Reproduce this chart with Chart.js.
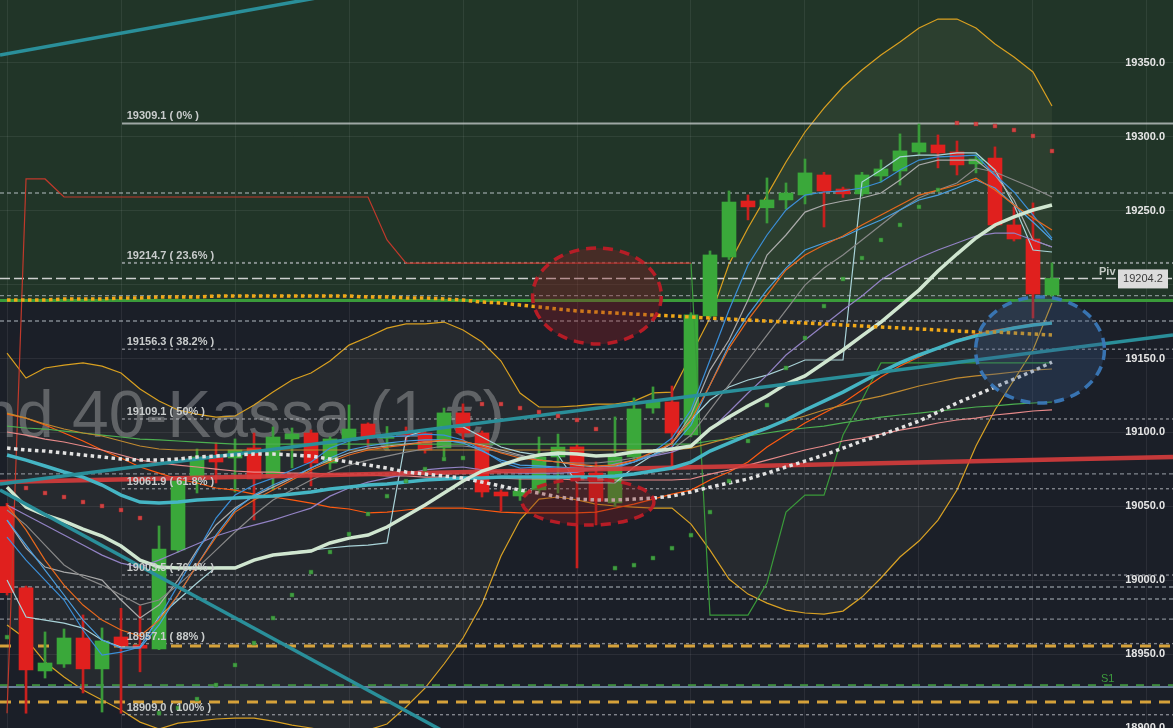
<!DOCTYPE html>
<html>
<head>
<meta charset="utf-8">
<script src="https://cdn.jsdelivr.net/npm/chart.js@4.4.1/dist/chart.umd.min.js"></script>
<style>
  html, body { margin: 0; padding: 0; background: #1b1f28; overflow: hidden; }
  #chart { display: block; }
</style>
</head>
<body>
<canvas id="chart" width="1173" height="728"></canvas>
<script>
// candles (index 0..55)
const opens = [19049.8,18994.8,18938.6,18943.3,18960.9,18940,18961.6,18956,18953.5,19020.5,19069.9,19083.4,19082.7,19089.5,19069.9,19095.6,19099.6,19079.3,19094.9,19105.7,19096,19100.3,19099.6,19089.5,19113.2,19099.6,19059.7,19057,19061.1,19083.4,19090.2,19072.6,19052.3,19083.4,19116.5,19120.6,19098.3,19178.8,19218.7,19256.6,19252,19257.3,19260.7,19274.2,19264.7,19261.4,19273.5,19276.9,19289.8,19294.5,19289.8,19281.7,19285.7,19240.4,19230.9,19193];
const highs = [19052,18996,18965,18967,18976.5,18967.7,18981,18982.6,19036.7,19068,19088.8,19092.9,19095.6,19099.6,19103.7,19103,19101.7,19097,19118.6,19106.5,19104,19103.7,19102,19116.5,19119.3,19101,19061,19069,19096.9,19098.9,19092,19080,19110.5,19123.3,19130.8,19131.4,19181,19222.8,19263.4,19260.7,19272.2,19268.8,19285,19276,19266,19276,19284.4,19302,19308.7,19301.3,19297.2,19288,19293.2,19252.6,19255.3,19214.7];
const lows = [18990,18910,18933.8,18941,18923.7,18910.8,18910,18938,18953,19019,19059,19065.8,19059.7,19040.8,19061,19076,19063.8,19075,19088.1,19090,19089,19094,19086,19083.4,19094.9,19056.3,19046.8,19054,19059,19059,19008.3,19037.4,19050,19082,19113,19074.6,19097,19178,19217,19243.8,19241.7,19251.2,19254.6,19239,19259,19260,19269.5,19267.4,19288,19279,19274.2,19275.6,19239,19229.5,19177.4,19192];
const closes = [18991.6,18939.3,18944,18960.9,18940,18958.9,18955.5,18954,19021.1,19067.2,19083.4,19080,19088.1,19068.5,19096.9,19099,19079.3,19095.6,19102.3,19096.2,19097,19098.3,19088.1,19113.2,19099.6,19059.7,19057,19060.4,19083.4,19090.1,19067.8,19053.5,19083.4,19115.9,19120.6,19099.6,19179.5,19220.1,19255.9,19252.6,19257.3,19262,19275.6,19263.4,19261.4,19274.2,19278.3,19290.5,19295.9,19289.1,19281,19285,19240.4,19230.9,19193.7,19204.2];

// parabolic sar
const sarBelow = [18961.5,null,null,null,null,null,null,null,18910.1,18913.5,18919.6,18929.1,18942.6,18957.5,18974.4,18990,19005.5,19019.1,19031.2,19044.8,19056.9,19067.1,19075.2,19082.0,19082.7,null,null,null,null,null,null,null,19008.2,19010.2,19015,19021.7,19030.5,19046.1,19067.1,19094.2,19118.5,19143.6,19163.9,19185.5,19203.8,19218,19230.2,19240.4,19252.6,19264.1,null,null,null,null,null,null];
const sarAbove = [null,19062.4,19059,19056.3,19052.9,19050.2,19047.5,19042.1,null,null,null,null,null,null,null,null,null,null,null,null,null,null,null,null,null,19119.2,19119.2,19116.5,19113.8,19111.1,19108.4,19102.3,null,null,null,null,null,null,null,null,null,null,null,null,null,null,null,null,null,null,19309.4,19308.7,19307.3,19304.6,19300.6,19290.4];

// bollinger bands
const bbUpper = [19153.7,19136.8,19143.6,19145.6,19147.0,19144.9,19140.2,19129.4,19121.2,19115.2,19112.4,19110.4,19111.1,19118.5,19127.3,19135.5,19140.2,19148.3,19159.1,19164.6,19170.6,19173.4,19173.4,19174.7,19169.3,19161.2,19148.3,19126.7,19117.2,19117.2,19117.9,19119.2,19119.2,19121.2,19126.7,19127.3,19152.4,19177.4,19213.9,19238.3,19260.6,19283.0,19303.3,19319.5,19333.7,19345.2,19355.4,19364.2,19373.7,19379.7,19379.7,19373.7,19362.8,19354.0,19343.9,19320.9];
const bbLower = [18969.7,18960.2,18944.6,18934.5,18925.7,18918.9,18912.2,18904.0,18899.3,18903.3,18904.7,18906.1,18906.7,18906.7,18904.7,18902.0,18900.0,18897.3,18896.6,18898.6,18902.7,18914.2,18927.0,18943.3,18960.9,18983.9,19016.4,19040.7,19054.9,19056.3,19054.3,19051.5,19050.2,19049.5,19048.8,19048.8,19038.0,19020.4,19000.8,18990.6,18984.5,18979.8,18977.8,18977.1,18979.1,18988.6,19001.5,19015.7,19026.5,19040.7,19061.0,19090.8,19115.2,19135.5,19155.8,19187.6];

// moving averages
const maWhite = [19063.0,19049.5,19044.1,19040.0,19034.6,19029.9,19023.1,19013.6,19008.9,19008.2,19008.2,19008.2,19008.2,19013.6,19017.0,19018.4,19019.7,19025.2,19028.5,19030.6,19036.0,19043.4,19050.9,19059.0,19067.1,19073.9,19077.9,19082.0,19084.7,19086.1,19085.4,19084.0,19084.7,19086.7,19087.4,19088.8,19090.8,19102.3,19110.4,19117.9,19124.6,19132.8,19138.2,19147.0,19155.8,19165.3,19174.7,19185.5,19196.3,19209.2,19220.7,19231.6,19240.4,19245.8,19250.5,19253.9];
const maTeal = [19084.7,19081.3,19077.3,19073.2,19069.8,19064.4,19057.6,19052.9,19052.2,19052.9,19054.3,19054.9,19055.6,19056.3,19057.0,19058.3,19059.7,19061.7,19063.0,19064.4,19065.1,19066.4,19067.8,19068.5,19069.1,19069.1,19069.8,19069.8,19069.8,19069.8,19069.8,19069.8,19070.5,19071.8,19073.9,19075.9,19079.9,19087.4,19092.8,19098.2,19102.9,19108.4,19115.2,19121.2,19127.3,19134.1,19140.9,19147.0,19152.4,19157.1,19161.9,19165.3,19168.0,19170.6,19172.7,19174.0];
const dotWhite = [19089.4,19088.1,19087.4,19086.1,19084.7,19083.4,19082.0,19081.3,19081.3,19082.0,19083.4,19084.0,19084.7,19085.4,19085.4,19084.7,19084.0,19082.0,19080.0,19077.9,19075.9,19073.2,19071.8,19070.5,19069.1,19066.4,19063.7,19061.0,19059.0,19056.3,19054.9,19054.3,19054.3,19054.9,19055.6,19056.9,19059.7,19063.0,19065.8,19068.5,19072.5,19076.6,19080.6,19084.7,19089.4,19094.2,19098.2,19102.9,19107.7,19113.8,19119.9,19125.3,19130.7,19136.1,19141.5,19147.6];
const dotYellow = [19189.6,19189.6,19189.6,19190.3,19190.3,19190.3,19191.0,19191.0,19191.6,19191.6,19191.6,19192.3,19192.3,19192.3,19192.3,19192.3,19192.3,19192.3,19192.3,19191.6,19191.6,19191.0,19191.0,19190.3,19189.6,19188.2,19187.6,19186.2,19184.9,19183.5,19182.2,19181.5,19180.8,19180.1,19179.4,19178.8,19178.1,19177.4,19176.7,19176.1,19175.4,19174.7,19174.0,19173.4,19172.7,19172.0,19171.3,19170.7,19170.0,19169.3,19168.6,19168.0,19168.0,19167.3,19166.6,19165.9];
const maBlue1 = [19029.2,19013.6,19000.1,18986.6,18966.3,18949.4,18951.4,18954.8,18974.4,18996.7,19019.1,19042.1,19057.6,19064.4,19069.1,19074.6,19080.0,19089.4,19094.2,19096.2,19096.9,19097.6,19098.9,19098.2,19094.9,19088.1,19080.0,19075.9,19076.6,19075.9,19075.2,19074.6,19075.9,19080.0,19086.7,19096.2,19115.2,19149.0,19182.8,19213.3,19233.6,19250.5,19260.6,19262.7,19263.4,19265.4,19269.4,19277.6,19284.3,19286.4,19287.0,19287.7,19274.2,19262.7,19247.0,19231.5];
const maBlue2 = [19040.7,19023.8,19006.9,18990.0,18973.0,18959.5,18954.1,18954.1,18969.7,18990.0,19010.3,19030.6,19047.5,19057.6,19064.4,19069.8,19075.9,19082.7,19088.1,19090.8,19092.8,19094.2,19094.9,19094.9,19092.8,19087.4,19081.3,19077.9,19077.3,19076.6,19075.9,19075.2,19076.6,19080.0,19084.7,19090.1,19105.0,19132.1,19159.1,19179.4,19196.4,19211.2,19223.4,19228.2,19232.2,19238.3,19243.7,19250.5,19257.3,19260.6,19265.4,19270.8,19265.4,19253.9,19242.4,19230.2];
const maOrange = [19050.9,19034.0,19013.6,18996.7,18983.2,18973.0,18966.3,18962.2,18973.0,18990.0,19010.3,19029.2,19046.1,19054.3,19061.0,19067.8,19074.6,19080.0,19084.7,19088.1,19090.1,19091.5,19093.5,19094.9,19094.2,19090.8,19086.1,19082.7,19081.3,19080.0,19078.6,19077.3,19077.9,19081.3,19086.7,19092.8,19108.4,19132.1,19157.1,19176.1,19193.0,19209.9,19220.0,19226.8,19232.9,19240.4,19247.1,19253.9,19260.6,19264.0,19267.4,19272.1,19264.0,19253.9,19245.1,19236.9];
const maGray1 = [19040.7,19021.8,19008.9,19005.5,19003.5,19000.1,18986.6,18974.4,18983.2,19000.1,19020.4,19037.4,19048.8,19056.9,19063.0,19069.1,19075.9,19081.3,19086.1,19089.4,19090.8,19092.1,19093.5,19094.2,19093.5,19091.5,19088.1,19084.7,19081.3,19080.0,19077.9,19076.6,19077.3,19080.0,19084.7,19092.8,19111.8,19142.2,19162.5,19189.6,19220.0,19233.6,19249.1,19253.9,19256.6,19258.6,19262.0,19270.8,19281.0,19284.3,19284.3,19284.3,19274.2,19257.3,19230.2,19225.5];
const maGray2 = [19047.5,19037.3,19023.8,19010.3,19002.2,18996.7,18990.0,18983.2,18986.6,18996.7,19008.2,19020.4,19032.6,19044.1,19054.3,19061.0,19067.8,19073.2,19077.9,19081.3,19084.0,19086.7,19088.8,19090.8,19090.8,19089.4,19086.7,19084.0,19081.3,19080.0,19079.3,19079.3,19080.6,19082.7,19084.7,19088.1,19098.2,19115.2,19132.1,19149.0,19165.9,19182.8,19199.7,19211.2,19220.0,19230.2,19240.4,19250.5,19258.6,19264.0,19268.8,19278.9,19276.2,19270.8,19265.4,19259.3];
const stepCyan = [19000.1,18975.1,18973.0,18971.0,18967.6,18959.5,18954.8,18954.8,18975.1,18986.6,18998.1,19008.9,19008.9,19013.6,19017.0,19019.1,19020.4,19021.8,19023.1,19023.8,19025.2,19096.9,19101.6,19103.7,19103.7,19096.9,19090.1,19086.7,19084.7,19084.7,19065.8,19065.8,19065.8,19076.6,19084.7,19092.8,19108.4,19121.9,19130.7,19135.5,19138.8,19143.6,19149.0,19149.0,19149.0,19269.4,19277.6,19286.4,19287.7,19287.7,19289.1,19289.1,19277.6,19253.9,19223.4,19222.1];
const maPurple = [19050.9,19044.1,19037.3,19030.6,19023.8,19017.0,19011.6,19008.9,19013.6,19019.1,19024.5,19029.9,19034.0,19037.3,19040.7,19044.8,19048.8,19056.9,19062.4,19066.4,19069.1,19071.8,19074.6,19075.9,19076.6,19074.6,19073.2,19072.5,19072.5,19072.5,19073.2,19075.9,19078.6,19081.3,19084.0,19086.7,19091.5,19101.6,19113.8,19126.7,19138.8,19152.4,19162.5,19172.7,19182.8,19192.3,19203.1,19211.2,19218.0,19223.4,19228.2,19232.9,19234.9,19234.9,19230.2,19225.5];
const maRedOrange = [19112.4,19109.7,19105.0,19099.6,19094.2,19088.1,19082.7,19076.6,19072.5,19068.5,19065.8,19062.4,19061.0,19058.3,19056.3,19054.3,19052.2,19049.5,19048.2,19045.5,19046.1,19047.5,19048.8,19048.8,19048.8,19047.5,19046.1,19045.5,19045.5,19045.5,19045.5,19046.1,19048.8,19051.5,19054.9,19058.3,19061.0,19067.8,19073.2,19080.0,19090.1,19098.2,19106.4,19113.1,19119.9,19128.7,19137.5,19144.9,19151.0,19157.1,19162.5,19166.6,19169.3,19171.3,19173.4,19174.7];
const maPink = [19100.3,19098.2,19095.5,19093.5,19090.8,19088.1,19084.7,19081.3,19079.3,19077.9,19076.6,19075.2,19073.9,19073.2,19073.2,19072.5,19072.5,19071.8,19071.2,19071.2,19070.5,19070.5,19069.8,19069.8,19069.1,19069.1,19069.1,19068.5,19068.5,19068.5,19067.8,19067.8,19067.8,19067.8,19067.8,19067.8,19068.5,19071.8,19074.6,19077.9,19081.3,19084.7,19088.1,19090.8,19094.2,19096.2,19098.9,19101.6,19103.7,19106.4,19108.4,19109.7,19111.8,19113.1,19114.5,19115.2];
const maBrown = [19113.1,19109.7,19105.7,19102.3,19099.6,19097.6,19094.2,19090.8,19088.8,19088.1,19088.1,19088.1,19088.1,19088.1,19088.1,19088.1,19088.1,19088.1,19088.1,19088.1,19088.1,19088.1,19088.1,19088.1,19088.1,19088.1,19088.1,19088.1,19088.1,19088.1,19088.1,19088.1,19088.1,19088.1,19088.1,19088.1,19089.4,19092.8,19096.2,19099.6,19103.7,19107.7,19111.1,19115.2,19118.5,19121.9,19124.6,19128.0,19131.4,19134.1,19136.8,19138.2,19139.5,19140.9,19142.2,19142.9];
const maGreen = [19104.3,19103.0,19102.3,19100.9,19099.6,19098.2,19096.9,19095.5,19094.9,19094.2,19093.5,19092.8,19092.1,19092.1,19092.1,19092.1,19092.1,19092.1,19092.1,19092.1,19092.1,19092.1,19092.1,19092.1,19092.1,19092.1,19092.1,19092.1,19092.1,19092.1,19092.1,19092.1,19092.1,19092.1,19092.1,19092.1,19092.1,19094.2,19095.5,19097.6,19099.6,19101.6,19103.0,19104.3,19106.4,19108.4,19110.4,19111.8,19113.1,19114.5,19115.8,19117.2,19117.9,19119.2,19119.9,19120.6];
const stopRed = [18910,19271.5,19271.5,19259.3,19259.3,19259.3,19259.3,19259.3,19259.3,19259.3,19259.3,19259.3,19259.3,19259.3,19259.3,19259.3,19259.3,19259.3,19259.3,19259.3,19230.2,19214.6,19214.6,19214.6,19214.6,19214.6,19214.6,19214.6,19214.6,19214.6,19214.6,19214.6,19214.6,19214.6,19214.6,19214.6,19214.6,null,null,null,null,null,null,null,null,null,null,null,null,null,null,null,null,null,null,null];
const stopGreen = [null,null,null,null,null,null,null,null,null,null,null,null,null,null,null,null,null,null,null,null,null,null,null,null,null,null,null,null,null,null,null,null,null,null,null,null,19214.6,18976.4,18976.4,18976.4,18998.1,19046.1,19057.6,19057.6,19098.2,19121.9,19147,19147,19147,19147,19147,19147,19147,19147,19147,19147];

// trend lines: [x0, y0, x1, y1] in candle index / price
const trendTop = [-0.37, 19355.4, 20, 19402.6];
const trendDown = [-0.37, 19061.0, 24, 18890.6];
const trendUp = [-0.37, 19065.1, 61.37, 19165.9];
const trendRed = [-0.37, 19066.4, 61.37, 19083.4];

// levels
const fibValues = [19309.1, 19214.7, 19156.3, 19109.1, 19061.9, 19003.5, 18957.1, 18909.0];
const fibPercents = ['0%', '23.6%', '38.2%', '50%', '61.8%', '76.4%', '88%', '100%'];
const thinLevels = [19262.0, 19192.5, 19175.4, 19072.0, 18995.4, 18987.3, 18973.7];
const yellowLevels = [18955.5, 18917.6];
const pivotLevel = 19204.2;
const greenLevel = 19189.3;
const s1Level = 18929.0;
const slateLevel = 18927.7;
const lastPrice = '19204.2';
const watermarkText = 'Deutschland 40-Kassa (1 €)';

const xMin = -0.37, xMax = 61.37;
const gridIdx = [3, 9, 15, 21, 27, 33, 39, 45, 51, 57];

const FONT = '"Liberation Sans", Arial, sans-serif';
const GREEN = '#3aa83a', RED = '#e0201e';

function pts(arr) {
  return arr.map((v, i) => ({ x: i, y: v }));
}
function line(data, color, width, order, extra) {
  return Object.assign({
    type: 'line', data: pts(data), borderColor: color, borderWidth: width,
    pointRadius: 0, tension: 0, fill: false, order: order
  }, extra || {});
}
function seg(t, color, width, order) {
  return {
    type: 'line', data: [{ x: t[0], y: t[1] }, { x: t[2], y: t[3] }],
    borderColor: color, borderWidth: width, pointRadius: 0, fill: false, order: order
  };
}
function level(v, from, color, width, dash, order) {
  return {
    type: 'line', data: [{ x: from, y: v }, { x: xMax, y: v }],
    borderColor: color, borderWidth: width, borderDash: dash,
    pointRadius: 0, fill: false, order: order
  };
}

const isUp = closes.map((c, i) => c >= opens[i]);

const datasets = [];
// bollinger with fill
datasets.push(line(bbUpper, '#d9a020', 1.2, 100, { fill: '+1', backgroundColor: 'rgba(235,235,190,0.055)' }));
datasets.push(line(bbLower, '#d9a020', 1.2, 100));

// horizontal levels
thinLevels.forEach(v => datasets.push(level(v, xMin, 'rgba(215,220,228,0.55)', 1.3, [4, 3], 90)));
fibValues.forEach((v, k) => datasets.push(level(v, 6.05,
  k === 0 ? 'rgba(200,205,205,0.75)' : 'rgba(200,202,208,0.6)', k === 0 ? 2 : (k === 1 ? 2 : 1.4), k === 0 ? [] : [3, 3], 90)));
datasets.push(level(pivotLevel, xMin, 'rgba(235,235,235,0.85)', 1.5, [10, 4], 90));
datasets.push(level(greenLevel, xMin, '#3a9a3a', 3, [], 89));
yellowLevels.forEach(v => datasets.push(level(v, xMin, '#d6a23a', 3, [11, 8], 89)));
datasets.push(level(slateLevel, xMin, '#6a7f9a', 2, [], 89));
datasets.push(level(s1Level, xMin, '#3d8a3d', 2, [8, 8], 88));

// candles
datasets.push({
  type: 'bar', data: lows.map((l, i) => ({ x: i, y: [l, highs[i]] })),
  backgroundColor: isUp.map(u => u ? '#3a9a3a' : '#c8201e'),
  barThickness: 2, maxBarThickness: 2, grouped: false, borderWidth: 0, order: 81
});
datasets.push({
  type: 'bar', data: opens.map((o, i) => ({ x: i, y: [o, closes[i]] })),
  backgroundColor: isUp.map(u => u ? GREEN : RED),
  barThickness: 14, maxBarThickness: 14, grouped: false, borderWidth: 0, minBarLength: 2, order: 80
});

// thin indicator lines
datasets.push(line(maBrown, '#c08a30', 1.2, 62));
datasets.push(line(maGreen, '#4caf50', 1.2, 62));
datasets.push(line(maPink, '#e88a8a', 1.2, 62));
datasets.push(line(maRedOrange, '#ff5a10', 1.2, 62));
datasets.push(line(stopRed, '#c0392b', 1.2, 62));
datasets.push(line(stopGreen, '#3a9a3a', 1.2, 62));
datasets.push(line(maPurple, '#9282c4', 1.2, 61));
datasets.push(line(maGray2, '#888888', 1.2, 61));
datasets.push(line(maGray1, '#aaaaaa', 1.2, 61));
datasets.push(line(stepCyan, '#a9d3d8', 1.2, 61));
datasets.push(line(maOrange, '#e8681c', 1.2, 60));
datasets.push(line(maBlue2, '#4a9ee0', 1.2, 60));
datasets.push(line(maBlue1, '#3b8fd8', 1.2, 60));

// thick lines
datasets.push(seg(trendRed, 'rgba(215,60,60,0.9)', 4.5, 55));
datasets.push(line(maTeal, '#45b5c4', 3.5, 50));
datasets.push(line(maWhite, '#d0e6d0', 3.5, 49));
datasets.push(seg(trendTop, '#2a8f9a', 3.5, 45));
datasets.push(seg(trendDown, '#2a8f9a', 3.5, 45));
datasets.push(seg(trendUp, '#2a8f9a', 3.5, 45));
datasets.push(line(dotWhite, '#e2e2e2', 3.5, 40, { borderDash: [3.5, 3.5] }));
datasets.push(line(dotYellow, '#f0a818', 3.5, 40, { borderDash: [3.5, 3.5] }));

// sar dots
datasets.push({
  type: 'line', data: pts(sarBelow), showLine: false, pointStyle: 'rect', pointRadius: 2.8,
  pointBackgroundColor: 'rgba(70,170,70,0.9)', pointBorderColor: 'rgba(40,120,40,0.9)', pointBorderWidth: 0.5, order: 10
});
datasets.push({
  type: 'line', data: pts(sarAbove), showLine: false, pointStyle: 'rect', pointRadius: 2.8,
  pointBackgroundColor: 'rgba(225,70,70,0.9)', pointBorderColor: 'rgba(160,40,40,0.9)', pointBorderWidth: 0.5, order: 10
});

// annotation ellipses in index / price units
const ellipses = [
  { cx: 31.05, cy: 19192.3, rx: 3.39, ry: 32.5, fill: 'rgba(140,30,35,0.35)', stroke: 'rgba(190,28,38,0.95)' },
  { cx: 30.58, cy: 19052.9, rx: 3.47, ry: 15.6, fill: 'rgba(130,25,30,0.35)', stroke: 'rgba(190,28,38,0.95)' },
  { cx: 54.37, cy: 19155.8, rx: 3.39, ry: 35.9, fill: 'rgba(55,90,135,0.3)', stroke: 'rgba(58,120,184,0.95)' }
];

const backdrop = {
  id: 'backdrop',
  beforeDraw(chart) {
    const { ctx, width, height, scales: { y } } = chart;
    ctx.save();
    ctx.fillStyle = '#1b1f28';
    ctx.fillRect(0, 0, width, height);
    ctx.fillStyle = '#213528';
    ctx.fillRect(0, 0, width, y.getPixelForValue(greenLevel));
    ctx.restore();
  }
};

const watermark = {
  id: 'watermark',
  beforeDatasetsDraw(chart) {
    const { ctx, scales: { x, y } } = chart;
    ctx.save();
    ctx.font = '66px ' + FONT;
    ctx.fillStyle = 'rgba(150,152,156,0.5)';
    ctx.textAlign = 'right';
    ctx.fillText(watermarkText, x.getPixelForValue(26.2), y.getPixelForValue(19096.9));
    ctx.restore();
  }
};

const overlay = {
  id: 'overlay',
  afterDatasetsDraw(chart) {
    const { ctx, chartArea: a, scales: { x, y } } = chart;
    ctx.save();
    ctx.beginPath();
    ctx.rect(a.left, a.top, a.right - a.left, a.bottom - a.top);
    ctx.clip();
    ellipses.forEach(e => {
      const cx = x.getPixelForValue(e.cx), cy = y.getPixelForValue(e.cy);
      const rx = x.getPixelForValue(e.cx + e.rx) - cx;
      const ry = y.getPixelForValue(e.cy - e.ry) - cy;
      ctx.beginPath();
      ctx.ellipse(cx, cy, rx, ry, 0, 0, Math.PI * 2);
      ctx.fillStyle = e.fill;
      ctx.fill();
      ctx.setLineDash([10, 7]);
      ctx.lineWidth = 3.5;
      ctx.strokeStyle = e.stroke;
      ctx.stroke();
    });
    ctx.setLineDash([]);

    // fib labels
    ctx.font = 'bold 11px ' + FONT;
    ctx.fillStyle = '#c9cccc';
    ctx.textAlign = 'left';
    ctx.textBaseline = 'alphabetic';
    fibValues.forEach((v, k) => {
      ctx.fillText(v.toFixed(1) + ' ( ' + fibPercents[k] + ' )', x.getPixelForValue(6.3), y.getPixelForValue(v) - 4);
    });
    ctx.restore();
  },
  afterDraw(chart) {
    const { ctx, chartArea: a, scales: { y } } = chart;
    ctx.save();
    // pivot label and last price box
    const py = y.getPixelForValue(pivotLevel);
    ctx.font = 'bold 11px ' + FONT;
    ctx.fillStyle = '#c4cac4';
    ctx.textAlign = 'left';
    ctx.textBaseline = 'alphabetic';
    ctx.fillText('Piv', a.right - 74, py - 3);
    ctx.fillStyle = '#dcdcdc';
    ctx.fillRect(a.right - 55, py - 9, 50, 19);
    ctx.fillStyle = '#3a3a3a';
    ctx.font = '11px ' + FONT;
    ctx.textAlign = 'center';
    ctx.textBaseline = 'middle';
    ctx.fillText(lastPrice, a.right - 30, py + 0.5);

    // S1 label
    ctx.fillStyle = '#3d9a3d';
    ctx.textAlign = 'left';
    ctx.textBaseline = 'alphabetic';
    ctx.fillText('S1', a.right - 72, y.getPixelForValue(s1Level) - 3);
    ctx.restore();
  }
};

new Chart(document.getElementById('chart'), {
  type: 'line',
  data: { datasets: datasets },
  options: {
    responsive: false,
    animation: false,
    devicePixelRatio: 1,
    events: [],
    layout: { padding: 0, autoPadding: false },
    plugins: { legend: { display: false }, tooltip: { enabled: false } },
    scales: {
      x: {
        type: 'linear', min: xMin, max: xMax, offset: false,
        grid: { color: 'rgba(255,255,255,0.07)', drawTicks: false },
        border: { display: false },
        ticks: { display: false },
        afterBuildTicks: s => { s.ticks = gridIdx.map(v => ({ value: v })); },
        afterFit: s => { s.height = 0; }
      },
      y: {
        type: 'linear', position: 'right', min: 18900, max: 19392.6,
        grid: { color: 'rgba(255,255,255,0.07)', drawTicks: false },
        border: { display: false },
        ticks: {
          stepSize: 50, includeBounds: false, mirror: true, padding: -8, z: 1,
          color: '#e6e6e6', font: { family: FONT, size: 11, weight: 'bold' },
          callback: v => v.toFixed(1)
        },
        afterFit: s => { s.width = 0; }
      }
    }
  },
  plugins: [backdrop, watermark, overlay]
});
</script>
</body>
</html>
